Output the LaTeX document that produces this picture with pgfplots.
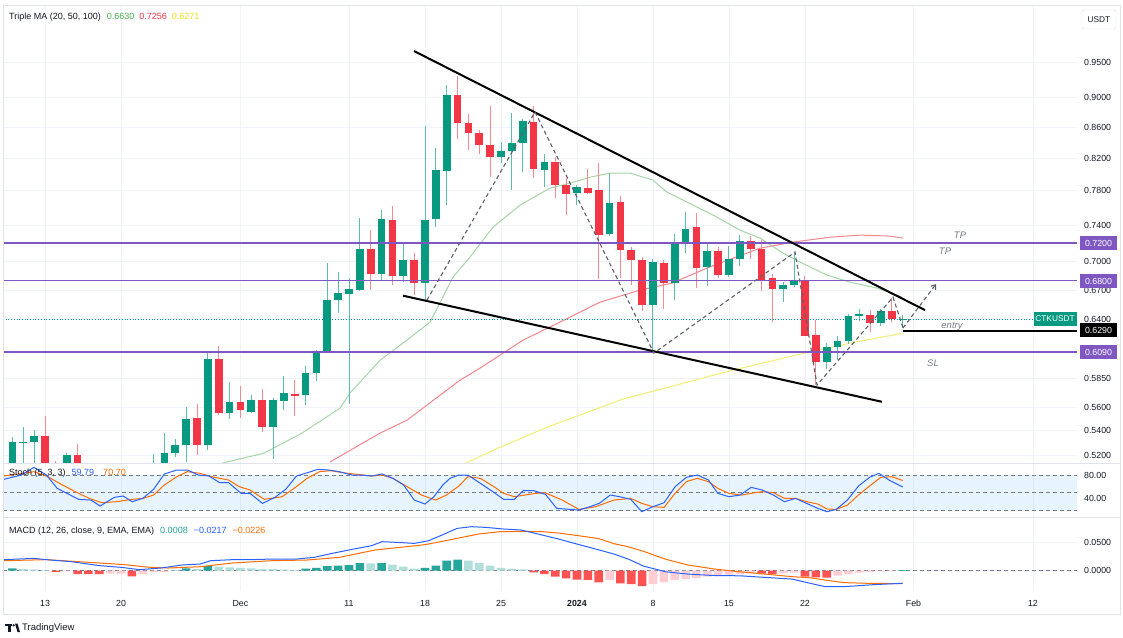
\documentclass[border=0pt]{standalone}
\usepackage{pgfplots}
\pgfplotsset{compat=1.18}
\usepackage{fontspec}
\setmainfont{Liberation Sans}
\usetikzlibrary{arrows.meta}
\definecolor{tvgreen}{HTML}{089981}
\definecolor{tvred}{HTML}{F23645}
\definecolor{wickgreen}{HTML}{5DBDAD}
\definecolor{wickred}{HTML}{F58A93}
\definecolor{gridc}{HTML}{F0F3FA}
\definecolor{purp}{HTML}{7E57C2}
\definecolor{txt}{HTML}{131722}
\definecolor{gtxt}{HTML}{787B86}
\definecolor{ma20}{HTML}{A5D6A7}
\definecolor{ma50}{HTML}{F4868C}
\definecolor{ma100}{HTML}{F5EE70}
\definecolor{kblue}{HTML}{2962FF}
\definecolor{dorange}{HTML}{FF6D00}
\definecolor{bandc}{HTML}{2196F3}
\definecolor{hdg}{HTML}{26A69A}
\definecolor{hlg}{HTML}{B2DFDB}
\definecolor{hdr}{HTML}{FF5252}
\definecolor{hlr}{HTML}{FFCDD2}
\definecolor{sepc}{HTML}{E0E3EB}
\definecolor{zig}{HTML}{5D606B}
\newcommand{\tfont}{\fontsize{8.8}{10}\selectfont}
\pgfplotsset{
  tvbase/.style={scale only axis, width=1074pt, xmin=-3.87, xmax=95.05,
    axis line style={draw=none}, tick style={draw=none},
    scaled y ticks=false, scaled x ticks=false,
    xtick={0,7,18,28,35,42,49,56,63,70,80,91}, xmajorgrids,
    major grid style={gridc, line width=0.9pt},
    yticklabel pos=right,
    yticklabel style={anchor=west, inner sep=0pt, xshift=7pt, font=\tfont, text=txt},
    anchor=south west, unbounded coords=jump},
}
\begin{document}
\begin{tikzpicture}[x=1pt,y=1pt]
\useasboundingbox (0,0) rectangle (1123,637);
\fill[white] (0,0) rectangle (1123,637);

% ---------------- price pane ----------------
\begin{axis}[tvbase, at={(3pt,174pt)}, height=458pt, ymode=log, ymin=0.5139, ymax=1.0373,
  ytick={0.52,0.54,0.56,0.585,0.64,0.67,0.70,0.74,0.78,0.82,0.86,0.90,0.95},
  yticklabels={0.5200,0.5400,0.5600,0.5850,0.6400,0.6700,0.7000,0.7400,0.7800,0.8200,0.8600,0.9000,0.9500},
  ymajorgrids, xticklabels={}]
% moving averages
\addplot[ma100, line width=1pt] coordinates {(37.76,0.5099) (41.91,0.5265) (46.51,0.5438) (53.24,0.5668) (58.49,0.5800) (63.37,0.5926) (70.74,0.6101) (75.07,0.6195) (79.03,0.6271)};
\addplot[ma50, line width=1pt] coordinates {(26.25,0.5147) (30.86,0.5380) (33.34,0.5488) (38.22,0.5835) (40.07,0.5944) (44.03,0.6205) (47.43,0.6378) (51.12,0.6577) (54.8,0.6699) (57.75,0.6772) (60.97,0.6929) (63.37,0.7036) (65.86,0.7145) (68.9,0.7211) (72.3,0.7266) (75.07,0.7289) (77.83,0.7278) (79.03,0.7256)};
\addplot[ma20, line width=1pt] coordinates {(15.66,0.5123) (16.76,0.5147) (20.17,0.5217) (23.67,0.5380) (27.17,0.5590) (28.09,0.5721) (30.86,0.6017) (33.34,0.6205) (35.46,0.6378) (37.58,0.6834) (39.14,0.7047) (41.26,0.7379) (43.75,0.7632) (46.51,0.7834) (48.36,0.7895) (50.2,0.7967) (52.04,0.8016) (53.88,0.8016) (56.0,0.7931) (57.29,0.7786) (60.05,0.7609) (61.9,0.7493) (64.01,0.7345) (65.86,0.7255) (67.98,0.7091) (69.54,0.6994) (72.03,0.6855) (74.15,0.6782) (76.63,0.6720) (78.94,0.6630)};
% candle wicks
\addplot[wickgreen, line width=1pt] coordinates {
(-3,0.500)(-3,0.535)(-3,nan) (-2,0.505)(-2,0.543)(-2,nan) (-1,0.505)(-1,0.541)(-1,nan)
(2,0.500)(2,0.522)(2,nan) (10,0.490)(10,0.521)(10,nan) (11,0.500)(11,0.538)(11,nan)
(12,0.519)(12,0.533)(12,nan) (13,0.515)(13,0.560)(13,nan) (15,0.524)(15,0.608)(15,nan)
(17,0.550)(17,0.582)(17,nan) (19,0.555)(19,0.570)(19,nan) (21,0.517)(21,0.568)(21,nan)
(22,0.557)(22,0.587)(22,nan) (24,0.562)(24,0.596)(24,nan) (25,0.583)(25,0.611)(25,nan)
(26,0.608)(26,0.698)(26,nan) (27,0.647)(27,0.689)(27,nan) (28,0.563)(28,0.683)(28,nan)
(29,0.669)(29,0.748)(29,nan) (31,0.679)(31,0.757)(31,nan) (33,0.678)(33,0.720)(33,nan)
(35,0.658)(35,0.861)(35,nan) (36,0.738)(36,0.833)(36,nan) (37,0.764)(37,0.918)(37,nan)
(42,0.814)(42,0.841)(42,nan) (43,0.781)(43,0.879)(43,nan) (44,0.803)(44,0.871)(44,nan)
(46,0.785)(46,0.825)(46,nan) (49,0.763)(49,0.787)(49,nan) (52,0.728)(52,0.802)(52,nan)
(56,0.609)(56,0.703)(56,nan) (58,0.660)(58,0.730)(58,nan) (59,0.709)(59,0.755)(59,nan)
(61,0.674)(61,0.720)(61,nan) (63,0.684)(63,0.717)(63,nan) (64,0.695)(64,0.729)(64,nan)
(68,0.658)(68,0.678)(68,nan) (69,0.673)(69,0.710)(69,nan) (72,0.594)(72,0.618)(72,nan)
(73,0.602)(73,0.624)(73,nan) (74,0.617)(74,0.646)(74,nan) (75,0.639)(75,0.651)(75,nan)
(77,0.634)(77,0.651)(77,nan) (79,0.632)(79,0.645)};
\addplot[wickred, line width=1pt] coordinates {
(0,0.500)(0,0.552)(0,nan) (1,0.495)(1,0.5155)(1,nan) (3,0.500)(3,0.529)(3,nan)
(14,0.520)(14,0.563)(14,nan) (16,0.553)(16,0.615)(16,nan) (18,0.551)(18,0.578)(18,nan)
(20,0.539)(20,0.576)(20,nan) (23,0.552)(23,0.584)(23,nan) (30,0.670)(30,0.735)(30,nan)
(32,0.675)(32,0.762)(32,nan) (34,0.665)(34,0.709)(34,nan) (38,0.844)(38,0.931)(38,nan)
(39,0.830)(39,0.878)(39,nan) (40,0.825)(40,0.856)(40,nan) (41,0.797)(41,0.888)(41,nan)
(45,0.796)(45,0.888)(45,nan) (47,0.772)(47,0.822)(47,nan) (48,0.752)(48,0.796)(48,nan)
(50,0.777)(50,0.807)(50,nan) (51,0.681)(51,0.814)(51,nan) (53,0.682)(53,0.774)(53,nan)
(54,0.675)(54,0.716)(54,nan) (55,0.649)(55,0.705)(55,nan) (57,0.651)(57,0.702)(57,nan)
(60,0.672)(60,0.754)(60,nan) (62,0.682)(62,0.716)(62,nan) (65,0.703)(65,0.728)(65,nan)
(66,0.669)(66,0.723)(66,nan) (67,0.638)(67,0.687)(67,nan) (70,0.624)(70,0.685)(70,nan)
(71,0.579)(71,0.640)(71,nan) (76,0.628)(76,0.650)(76,nan) (78,0.638)(78,0.662)};
% candle bodies (open -> close)
\addplot[tvgreen, line width=7.8pt, line cap=butt] coordinates {
(-3,0.508)(-3,0.531)(-3,nan) (-2,0.530)(-2,0.531)(-2,nan) (-1,0.531)(-1,0.536)(-1,nan)
(2,0.505)(2,0.520)(2,nan) (10,0.500)(10,0.510)(10,nan) (11,0.508)(11,0.522)(11,nan)
(12,0.522)(12,0.528)(12,nan) (13,0.528)(13,0.550)(13,nan) (15,0.528)(15,0.603)(15,nan)
(17,0.555)(17,0.564)(17,nan) (19,0.556)(19,0.566)(19,nan) (21,0.543)(21,0.566)(21,nan)
(22,0.565)(22,0.572)(22,nan) (24,0.570)(24,0.590)(24,nan) (25,0.590)(25,0.609)(25,nan)
(26,0.609)(26,0.660)(26,nan) (27,0.660)(27,0.667)(27,nan) (28,0.666)(28,0.671)(28,nan)
(29,0.670)(29,0.713)(29,nan) (31,0.687)(31,0.747)(31,nan) (33,0.685)(33,0.702)(33,nan)
(35,0.677)(35,0.746)(35,nan) (36,0.747)(36,0.806)(36,nan) (37,0.804)(37,0.903)(37,nan)
(42,0.822)(42,0.829)(42,nan) (43,0.829)(43,0.839)(43,nan) (44,0.839)(44,0.868)(44,nan)
(46,0.805)(46,0.815)(46,nan) (49,0.778)(49,0.785)(49,nan) (52,0.730)(52,0.766)(52,nan)
(56,0.655)(56,0.699)(56,nan) (58,0.677)(58,0.720)(58,nan) (59,0.720)(59,0.736)(59,nan)
(61,0.694)(61,0.711)(61,nan) (63,0.686)(63,0.703)(63,nan) (64,0.703)(64,0.722)(64,nan)
(68,0.671)(68,0.675)(68,nan) (69,0.675)(69,0.679)(69,nan) (72,0.600)(72,0.614)(72,nan)
(73,0.614)(73,0.620)(73,nan) (74,0.620)(74,0.644)(74,nan) (75,0.644)(75,0.646)(75,nan)
(77,0.637)(77,0.649)(77,nan) (79,0.6395)(79,0.641)};
\addplot[tvred, line width=7.8pt, line cap=butt] coordinates {
(0,0.536)(0,0.510)(0,nan) (1,0.510)(1,0.505)(1,nan) (3,0.520)(3,0.505)(3,nan)
(14,0.551)(14,0.528)(14,nan) (16,0.603)(16,0.555)(16,nan) (18,0.564)(18,0.557)(18,nan)
(20,0.566)(20,0.543)(20,nan) (23,0.5715)(23,0.5695)(23,nan) (30,0.713)(30,0.687)(30,nan)
(32,0.746)(32,0.685)(32,nan) (34,0.702)(34,0.677)(34,nan) (38,0.903)(38,0.865)(38,nan)
(39,0.866)(39,0.853)(39,nan) (40,0.853)(40,0.837)(40,nan) (41,0.837)(41,0.822)(41,nan)
(45,0.867)(45,0.807)(45,nan) (47,0.815)(47,0.787)(47,nan) (48,0.787)(48,0.776)(48,nan)
(50,0.784)(50,0.778)(50,nan) (51,0.781)(51,0.729)(51,nan) (53,0.767)(53,0.712)(53,nan)
(54,0.712)(54,0.702)(54,nan) (55,0.702)(55,0.655)(55,nan) (57,0.698)(57,0.677)(57,nan)
(60,0.738)(60,0.693)(60,nan) (62,0.711)(62,0.686)(62,nan) (65,0.722)(65,0.713)(65,nan)
(66,0.714)(66,0.680)(66,nan) (67,0.682)(67,0.671)(67,nan) (70,0.679)(70,0.624)(70,nan)
(71,0.625)(71,0.600)(71,nan) (76,0.645)(76,0.637)(76,nan) (78,0.649)(78,0.641)};
% current price dotted line
\addplot[tvgreen, line width=0.7pt, dotted] coordinates {(-3.87,0.641) (91.1,0.641)};
% horizontal levels
\addplot[purp, line width=1.8pt] coordinates {(-3.87,0.72) (95.05,0.72)};
\addplot[purp, line width=1.8pt] coordinates {(-3.87,0.68) (95.05,0.68)};
\addplot[purp, line width=1.8pt] coordinates {(-3.87,0.609) (95.05,0.609)};
\addplot[black, line width=1.6pt] coordinates {(79.03,0.629) (95.05,0.629)};
% wedge
\addplot[black, line width=2pt] coordinates {(33.99,0.9666) (81.05,0.6497)};
\addplot[black, line width=2pt] coordinates {(32.97,0.6643) (77.09,0.5645)};
% zig-zag projection
\addplot[zig, line width=1.1pt, dash pattern=on 4pt off 3pt] coordinates {(35.18,0.6597) (45.13,0.8803) (56.09,0.6083) (69.08,0.7102) (71.11,0.5792) (78.11,0.6628) (79.03,0.6321)};
\addplot[zig, line width=1.1pt, dash pattern=on 4pt off 3pt, -{Straight Barb[length=4pt,width=6pt]}] coordinates {(79.03,0.6321) (82.07,0.6762)};
\end{axis}

% ---------------- stochastic pane ----------------
\begin{axis}[tvbase, at={(3pt,120pt)}, height=53pt, ymin=9.4, ymax=98.5,
  ytick={40,80}, yticklabels={40.00,80.00}, xticklabels={}]
\addplot[draw=none, fill=bandc, fill opacity=0.1] coordinates {(-3.87,20) (95.05,20) (95.05,80) (-3.87,80)};
\addplot[gtxt, line width=0.8pt, dash pattern=on 4pt off 3pt] coordinates {(-3.87,80) (95.05,80)};
\addplot[gtxt, line width=0.8pt, dash pattern=on 4pt off 3pt] coordinates {(-3.87,50) (95.05,50)};
\addplot[gtxt, line width=0.8pt, dash pattern=on 4pt off 3pt] coordinates {(-3.87,20) (95.05,20)};
\addplot[dorange, line width=1pt] coordinates {(-3.82,78.3) (-2.5,81.7) (-1.02,85.6) (0.13,78.3) (1.61,63.2) (3.09,49.2) (4.08,40.7) (5.23,33.4) (6.55,35.1) (8.03,39.1) (9.01,40.7) (10.0,46.3) (10.99,63.2) (12.14,77.2) (13.12,85.6) (14.28,82.8) (15.59,76.1) (16.91,71.6) (17.89,60.4) (18.88,54.8) (20.2,39.1) (21.84,43.5) (23.16,60.4) (24.14,74.4) (25.3,85.6) (26.28,87.3) (27.43,83.9) (28.42,81.7) (30.07,78.3) (31.05,80) (32.04,74.4) (33.36,60.4) (34.67,46.3) (35.99,37.9) (36.97,46.3) (38.12,61.5) (38.95,77.2) (40.1,74.4) (41.25,61.5) (42.24,49.2) (43.22,43.5) (44.21,46.3) (45.2,49.2) (46.02,50.3) (46.6,46) (47.64,37.9) (49.17,22.2) (50.71,26.7) (52.41,37.9) (53.95,40.7) (54.97,32.3) (55.99,26.7) (57.02,25.6) (58.04,49.2) (59.07,68.8) (60.09,74.4) (61.11,68.8) (61.97,57.6) (62.99,49.2) (64.18,46.3) (65.04,49.2) (66.06,52.0) (67.08,50.3) (68.11,40.7) (69.13,40.7) (70.15,35.1) (71.18,31.2) (72.03,22.8) (72.88,22.2) (73.91,29.5) (74.93,46.3) (75.95,61.5) (76.98,76.1) (78.0,77.2) (79,70.7)};
\addplot[kblue, line width=1pt] coordinates {(-3.82,72.7) (-2.17,80) (-1.02,92.9) (0.13,80) (1.12,57.6) (3.09,39.1) (4.24,37.9) (5.07,27.8) (6.38,42.4) (7.20,44.7) (8.03,35.1) (9.01,40.7) (10.0,55.9) (10.99,81.7) (12.14,88.4) (13.12,88.4) (14.11,80) (15.1,78.3) (16.09,67.1) (16.91,67.1) (18.06,49.2) (18.88,49.2) (20.03,32.3) (21.18,42.4) (22.17,55.9) (23.16,78.3) (24.47,85.6) (25.13,89.5) (26.12,88.4) (27.11,85.6) (28.26,80) (29.08,80) (30.07,78.3) (31.05,81.7) (32.04,74.4) (33.03,63.2) (34.01,37.9) (35.0,31.2) (35.82,43.5) (36.64,63.2) (37.3,74.4) (38.12,80) (38.95,80) (40.1,66.0) (41.25,52.0) (42.24,39.1) (43.22,39.1) (44.05,53.6) (45.03,53.6) (46.1,47.5) (47.13,23.9) (49.17,21.1) (50.2,26.7) (51.05,32.3) (52.07,46.3) (52.93,43.5) (53.95,39.1) (54.97,18.3) (55.99,26.7) (57.02,33.4) (58.04,60.4) (59.07,76.1) (60.09,80) (61.11,71.6) (61.97,49.2) (62.99,43.5) (64.01,46.3) (65.04,59.2) (66.06,54.8) (67.08,46.3) (68.11,35.1) (69.13,40.7) (70.15,32.3) (71.18,23.9) (72.03,18.3) (72.88,22.2) (73.91,37.9) (74.93,61.5) (75.95,76.1) (76.81,82.8) (77.83,70.5) (79,59.8)};
\end{axis}

% ---------------- MACD pane ----------------
\begin{axis}[tvbase, at={(3pt,47pt)}, height=72pt, ymin=-0.034, ymax=0.0928,
  ytick={0,0.05}, yticklabels={0.0000,0.0500}, ymajorgrids,
  xticklabels={13,20,Dec,11,18,25,\textbf{2024},8,15,22,Feb,12},
  xticklabel style={font=\tfont, text=txt, inner sep=0pt, anchor=north, yshift=-10pt}]
\addplot[gtxt, line width=0.8pt, dash pattern=on 4pt off 3pt] coordinates {(-3.87,0) (95.05,0)};
\addplot[ybar, bar width=8.6pt, bar shift=0pt, fill=hdg, draw=none] coordinates {(-3,0.004) (13,0.004) (15,0.008) (24,0.0035) (25,0.005) (26,0.008) (27,0.009) (28,0.010) (29,0.0135) (31,0.0135) (35,0.005) (36,0.009) (37,0.0176) (38,0.0194) (79,0.0008)};
\addplot[ybar, bar width=8.6pt, bar shift=0pt, fill=hlg, draw=none] coordinates {(-2,0.003) (-1,0.002) (0,0.001) (12,0.001) (14,0.003) (16,0.007) (17,0.006) (18,0.005) (19,0.004) (20,0.003) (21,0.003) (22,0.002) (23,0.001) (30,0.0130) (32,0.0105) (33,0.007) (34,0.0035) (39,0.0176) (40,0.0135) (41,0.009) (42,0.005) (43,0.003) (44,0.0025)};
\addplot[ybar, bar width=8.6pt, bar shift=0pt, fill=hdr, draw=none] coordinates {(1,-0.002) (3,-0.006) (4,-0.006) (5,-0.006) (8,-0.010) (45,-0.003) (46,-0.006) (47,-0.0106) (48,-0.0135) (49,-0.0158) (50,-0.016) (51,-0.0205) (53,-0.0223) (54,-0.0235) (55,-0.027) (66,-0.0053) (67,-0.0059) (70,-0.0106) (71,-0.0117) (72,-0.0123)};
\addplot[ybar, bar width=8.6pt, bar shift=0pt, fill=hlr, draw=none] coordinates {(2,-0.001) (6,-0.005) (7,-0.005) (9,-0.006) (10,-0.003) (11,-0.002) (52,-0.0164) (56,-0.0235) (57,-0.0205) (58,-0.0164) (59,-0.0147) (60,-0.0129) (61,-0.0106) (62,-0.0088) (63,-0.0070) (64,-0.0059) (65,-0.0047) (68,-0.0047) (69,-0.0035) (73,-0.0088) (74,-0.0059) (75,-0.0035) (76,-0.0023) (77,-0.0012) (78,-0.0005)};
\addplot[dorange, line width=1pt] coordinates {(-3.82,0.0176) (0.13,0.0194) (4.08,0.0147) (7.37,0.0106) (9.67,0.0059) (11.32,0.0047) (14.28,0.0070) (17.24,0.0135) (20.86,0.0176) (24.14,0.0188) (27.11,0.0235) (30.39,0.0364) (35.0,0.0458) (37.96,0.0569) (39.93,0.0646) (41.91,0.0687) (43.88,0.0692) (45.86,0.0687) (47.43,0.0660) (49.0,0.0620) (51.0,0.0565) (52.41,0.0475) (53.78,0.042) (55.14,0.034) (57.19,0.020) (59.24,0.010) (61.63,0.003) (64.01,-0.002) (66.06,-0.0055) (68.79,-0.0105) (70.5,-0.0125) (71.86,-0.0165) (73.57,-0.021) (76.3,-0.0225) (79,-0.0226)};
\addplot[kblue, line width=1pt] coordinates {(-3.82,0.0194) (-1.02,0.0217) (0.13,0.0194) (2.43,0.0158) (5.07,0.0088) (7.04,0.0059) (8.68,0.0018) (10.66,0.0047) (12.63,0.0100) (14.28,0.0117) (15.26,0.0176) (17.24,0.0194) (18.88,0.0194) (20.86,0.0205) (23.16,0.0205) (24.8,0.0235) (26.45,0.0305) (28.42,0.0381) (30.07,0.0440) (31.05,0.0511) (32.37,0.0499) (34.01,0.0481) (35.33,0.0528) (36.64,0.0634) (37.96,0.0745) (39.28,0.0775) (40.59,0.0763) (42.24,0.0734) (43.88,0.0716) (45.53,0.0640) (47.3,0.0558) (49.0,0.0469) (51.05,0.0364) (52.41,0.0293) (53.78,0.020) (55.14,0.008) (57.19,-0.002) (59.24,-0.006) (61.63,-0.0085) (64.01,-0.009) (66.06,-0.0115) (68.79,-0.0147) (70.5,-0.0223) (71.86,-0.0282) (73.57,-0.0282) (76.3,-0.0246) (78.86,-0.0223) (79,-0.0217)};
\end{axis}

% ---------------- frame and separators ----------------
\draw[sepc, line width=0.8pt] (3,23) rectangle (1120,632);
\draw[sepc, line width=0.8pt] (3,173.5) -- (1120,173.5);
\draw[sepc, line width=0.8pt] (3,119.5) -- (1120,119.5);

% ---------------- legends ----------------
\node[anchor=west, inner sep=0pt, font=\fontsize{9}{10}\selectfont, text=txt] at (9,620) {Triple MA (20, 50, 100)\hspace{6pt}\textcolor[HTML]{4CAF50}{0.6630}\hspace{5pt}\textcolor[HTML]{F23645}{0.7256}\hspace{5pt}\textcolor[HTML]{F2DD1C}{0.6271}};
\node[anchor=west, inner sep=0pt, font=\fontsize{9}{10}\selectfont, text=txt] at (9,163.5) {Stoch (5, 3, 3)\hspace{6pt}\textcolor{kblue}{59.79}\hspace{9pt}\textcolor{dorange}{70.70}};
\node[anchor=west, inner sep=0pt, font=\fontsize{9}{10}\selectfont, text=txt] at (9,106) {MACD (12, 26, close, 9, EMA, EMA)\hspace{6pt}\textcolor{hdg}{0.0008}\hspace{6pt}\textcolor{kblue}{−0.0217}\hspace{6pt}\textcolor{dorange}{−0.0226}};

% drawing labels
\node[font=\fontsize{9.5}{10}\selectfont\itshape, text=gtxt] at (960,402) {TP};
\node[font=\fontsize{9.5}{10}\selectfont\itshape, text=gtxt] at (945,386) {TP};
\node[font=\fontsize{9.5}{10}\selectfont\itshape, text=gtxt] at (952,311) {entry};
\node[font=\fontsize{9.5}{10}\selectfont\itshape, text=gtxt] at (933,274) {SL};

% price-scale labels
\node[fill=purp, text=white, font=\tfont, inner sep=0pt, minimum width=37pt, minimum height=14pt] at (1098.5,394) {0.7200};
\node[fill=purp, text=white, font=\tfont, inner sep=0pt, minimum width=37pt, minimum height=14pt] at (1098.5,356) {0.6800};
\node[fill=black, text=white, font=\tfont, inner sep=0pt, minimum width=37pt, minimum height=14pt] at (1098.5,307) {0.6290};
\node[fill=purp, text=white, font=\tfont, inner sep=0pt, minimum width=37pt, minimum height=14pt] at (1098.5,285) {0.6090};
\node[fill=tvgreen, text=white, font=\fontsize{8.3}{10}\selectfont, inner sep=0pt, minimum width=43pt, minimum height=14pt] at (1055,318) {CTKUSDT};
\node[draw=sepc, rounded corners=2pt, fill=white, text=txt, font=\fontsize{8.3}{10}\selectfont, inner sep=0pt, minimum width=34pt, minimum height=19pt] at (1099,617.5) {USDT};

% TradingView logo
\fill[txt] (5,11) rectangle (12,13.5);
\fill[txt] (8,5) rectangle (10.5,13.5);
\fill[txt] (13.6,11.8) circle (1.3);
\fill[txt] (15,13.5) -- (17.5,13.5) -- (20,5) -- (17.5,5) -- cycle;
\node[anchor=west, inner sep=0pt, font=\fontsize{9.5}{10}\selectfont, text=txt] at (22,9) {TradingView};
\end{tikzpicture}
\end{document}
